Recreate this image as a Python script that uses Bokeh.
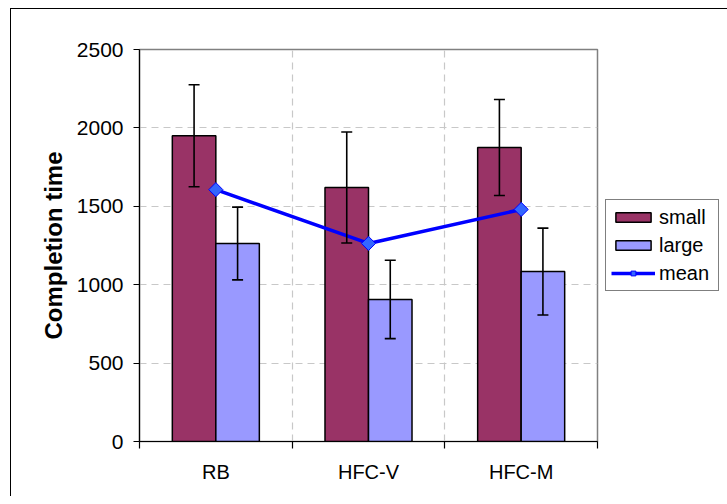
import numpy as np
from bokeh.plotting import figure
from bokeh.models import (ColumnDataSource, FixedTicker, Whisker, TeeHead, Legend,
                          LegendItem, Range1d, InlineStyleSheet)
from bokeh.embed import file_html
from bokeh.resources import INLINE

categories = ["RB", "HFC-V", "HFC-M"]
small = [1950, 1620, 1875]
small_err = [325, 354, 306]
large = [1263, 906, 1084]
large_err = [232, 250, 277]
mean = [1606, 1263, 1480]
y_ticks = [0, 500, 1000, 1500, 2000, 2500]

xc = np.arange(len(categories)) + 0.5
bw = 0.285
src = ColumnDataSource(dict(
    xs=xc - bw / 2, xl=xc + bw / 2, xc=xc,
    small=small, large=large, mean=mean,
    s_up=np.array(small) + np.array(small_err), s_lo=np.array(small) - np.array(small_err),
    l_up=np.array(large) + np.array(large_err), l_lo=np.array(large) - np.array(large_err),
))

FONT = "Liberation Sans"

p = figure(frame_width=458, frame_height=392, output_backend="svg", toolbar_location=None,
           x_range=Range1d(0, len(categories)), y_range=Range1d(0, 2500),
           min_border_left=139, min_border_top=49, min_border_bottom=55, min_border_right=0)
p.outline_line_color = "#808080"
p.outline_line_width = 1.5

# x axis: labels at category centers, ticks at boundaries
xt = FixedTicker(ticks=list(xc), minor_ticks=list(range(len(categories) + 1)))
p.xaxis.ticker = xt
p.xaxis.major_label_overrides = {float(v): c for v, c in zip(xc, categories)}
p.xaxis.major_tick_line_color = None
p.xaxis.major_tick_out = 0
p.xaxis.major_tick_in = 0
p.xaxis.minor_tick_line_color = "black"
p.xaxis.minor_tick_out = 7
p.xaxis.minor_tick_in = 0
p.xaxis.minor_tick_line_width = 1.2
p.xaxis.axis_line_color = "black"
p.xaxis.axis_line_width = 1.2
p.xaxis.major_label_text_font = FONT
p.xaxis.major_label_text_font_size = "20px"
p.xaxis.major_label_text_color = "black"
p.xaxis.major_label_standoff = 12

p.yaxis.ticker = FixedTicker(ticks=y_ticks)
p.yaxis.minor_tick_line_color = None
p.yaxis.major_tick_out = 6
p.yaxis.major_tick_in = 0
p.yaxis.major_tick_line_color = "black"
p.yaxis.major_tick_line_width = 1.2
p.yaxis.axis_line_color = "black"
p.yaxis.axis_line_width = 1.2
p.yaxis.major_label_text_font = FONT
p.yaxis.major_label_text_font_size = "21px"
p.yaxis.major_label_text_color = "black"
p.yaxis.major_label_standoff = 10
p.yaxis.axis_label = "Completion time"
p.yaxis.axis_label_text_font = FONT
p.yaxis.axis_label_text_font_style = "bold"
p.yaxis.axis_label_text_font_size = "24px"
p.yaxis.axis_label_text_color = "black"
p.yaxis.axis_label_standoff = 7

p.xgrid.ticker = FixedTicker(ticks=list(range(1, len(categories))))
p.ygrid.ticker = FixedTicker(ticks=y_ticks[1:-1])
for g in (p.xgrid, p.ygrid):
    g.grid_line_color = "#c8c8c8"
    g.grid_line_dash = "7 5"
    g.grid_line_width = 1.2

r_small = p.vbar(x="xs", top="small", width=bw, bottom=0, source=src,
                 fill_color="#993366", line_color="black", line_width=1.5)
r_large = p.vbar(x="xl", top="large", width=bw, bottom=0, source=src,
                 fill_color="#9999FF", line_color="black", line_width=1.5)

for base, up, lo in (("xs", "s_up", "s_lo"), ("xl", "l_up", "l_lo")):
    w = Whisker(source=src, base=base, upper=up, lower=lo, dimension="height",
                line_color="black", line_width=1.6, level="overlay",
                upper_head=TeeHead(size=11, line_color="black", line_width=1.6),
                lower_head=TeeHead(size=11, line_color="black", line_width=1.6))
    p.add_layout(w)

r_line = p.line(x="xc", y="mean", source=src, line_color="#0000FF", line_width=3.5)
r_pts = p.scatter(x="xc", y="mean", source=src, marker="square", angle=np.pi / 4, size=10,
                  fill_color="#3366FF", line_color="#0000FF", line_width=1)

legend = Legend(items=[LegendItem(label="small", renderers=[r_small]),
                       LegendItem(label="large", renderers=[r_large]),
                       LegendItem(label="mean", renderers=[r_line, r_pts])],
                location="center_left")
legend.label_text_font = FONT
legend.label_text_font_size = "20px"
legend.label_text_color = "black"
legend.glyph_width = 44
legend.glyph_height = 12
legend.label_height = 24
legend.label_width = 54
legend.label_standoff = 4
legend.spacing = 4
legend.padding = 5
legend.margin = 8
legend.border_line_color = "black"
legend.border_line_width = 1.2
legend.background_fill_alpha = 1
p.add_layout(legend, "right")

# outer chart frame (left and top edges visible in the window)
p.stylesheets = [InlineStyleSheet(css="""
:host { position: relative; }
:host::after { content: ''; position: absolute; left: 10px; top: 8px;
  right: 0px; bottom: 0px; border-left: 1px solid black; border-top: 1px solid black;
  pointer-events: none; }
""")]

open("out.html", "w").write(file_html(p, INLINE))
